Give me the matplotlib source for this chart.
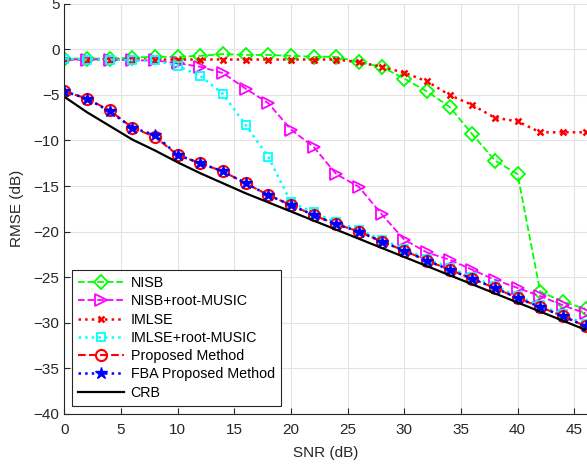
import numpy as np
import matplotlib.pyplot as plt

plt.rcParams['font.family'] = ['Liberation Sans', 'DejaVu Sans']
plt.rcParams['font.size'] = 11

## data ##################################################
snr = np.arange(0, 47, 2)

nisb = [-1.0, -1.0, -1.0, -0.9, -0.8, -0.8, -0.7, -0.5, -0.6, -0.6, -0.7, -0.8,
        -0.8, -1.4, -1.9, -3.2, -4.6, -6.3, -9.3, -12.2, -13.7, -26.6, -27.7, -28.5]
nisb_music = [-1.1, -1.1, -1.1, -1.2, -1.2, -1.5, -1.9, -2.6, -4.3, -5.9, -8.8, -10.7,
              -13.7, -15.1, -18.1, -20.9, -22.3, -23.1, -24.2, -25.3, -26.2, -27.1, -28.1, -29.0]
imlse = [-1.1, -1.1, -1.1, -1.1, -1.1, -1.1, -1.1, -1.1, -1.1, -1.1, -1.1, -1.1,
         -1.1, -1.4, -1.9, -2.55, -3.5, -5.0, -6.1, -7.5, -7.9, -9.1, -9.1, -9.1]
imlse_music = [-1.0, -1.1, -1.1, -1.2, -1.2, -1.8, -2.9, -4.9, -8.3, -11.8, -16.8, -17.9,
               -19.0, -19.8, -20.9, -21.9, -23.0, -24.0, -25.0, -26.0, -27.1, -28.1, -29.1, -30.2]
proposed = [-4.6, -5.4, -6.7, -8.6, -9.6, -11.6, -12.5, -13.4, -14.7, -16.0, -17.1, -18.2,
            -19.2, -20.0, -21.1, -22.1, -23.2, -24.2, -25.2, -26.2, -27.3, -28.3, -29.3, -30.4]
fba = [-4.6, -5.4, -6.8, -8.6, -9.4, -11.6, -12.5, -13.4, -14.7, -16.0, -17.1, -18.2,
       -19.2, -20.0, -21.1, -22.1, -23.2, -24.2, -25.2, -26.2, -27.3, -28.3, -29.3, -30.4]
crb = [-5.2, -6.9, -8.4, -9.9, -11.1, -12.4, -13.6, -14.7, -15.8, -16.8, -17.8, -18.8,
       -19.8, -20.8, -21.8, -22.8, -23.8, -24.8, -25.8, -26.8, -27.8, -28.8, -29.8, -30.8]

labels = ['NISB', 'NISB+root-MUSIC', 'IMLSE', 'IMLSE+root-MUSIC',
          'Proposed Method', 'FBA Proposed Method', 'CRB']

## plot ##################################################
fig = plt.figure(figsize=(5.87, 4.69), dpi=100)
ax = fig.add_axes([0.1097, 0.1183, 0.8903, 0.8732])

ax.plot(snr, nisb, '--', color=(0, 1, 0), marker='D', ms=7, mfc='none', mew=1.3, lw=1.3, label=labels[0])
ax.plot(snr, nisb_music, '--', color=(1, 0, 1), marker='>', ms=8, mfc='none', mew=1.3, lw=1.3, label=labels[1])
ax.plot(snr, imlse, ':', color=(1, 0, 0), marker='x', ms=5, mew=1.8, lw=1.8, label=labels[2])
ax.plot(snr, imlse_music, ':', color=(0, 1, 1), marker='s', ms=5.5, mfc='none', mew=1.3, lw=1.8, label=labels[3])
ax.plot(snr, proposed, '--', color=(1, 0, 0), marker='o', ms=8, mfc='none', mew=1.5, lw=1.5, label=labels[4])
ax.plot(snr, fba, ':', color=(0, 0, 1), marker='*', ms=9, lw=1.8, label=labels[5])
ax.plot(snr, crb, '-', color='k', lw=1.6, label=labels[6])

ax.set_xlim(0, 46.13)
ax.set_ylim(-40, 5)
ax.set_xticks(np.arange(0, 46, 5))
ax.set_yticks(np.arange(-40, 6, 5))
ax.grid(True, color='#e3e3e3', lw=0.8)
ax.set_axisbelow(True)
ax.tick_params(direction='in', length=4, colors='#262626', labelcolor='#262626')
ax.tick_params(axis='x', pad=7)
for s in ['top', 'right']:
    ax.spines[s].set_visible(False)
for s in ['left', 'bottom']:
    ax.spines[s].set_color('#262626')
    ax.spines[s].set_linewidth(0.8)

ax.set_xlabel('SNR (dB)', color='#262626', labelpad=6)
ax.set_ylabel('RMSE (dB)', color='#262626', labelpad=7)

leg = ax.legend(loc='lower left', bbox_to_anchor=(0.0145, 0.018), fancybox=False,
                edgecolor='#262626', framealpha=1, handlelength=3.2, borderpad=0.45,
                labelspacing=0.3, handletextpad=0.45, borderaxespad=0, fontsize=10.3)
leg.get_frame().set_linewidth(0.8)

plt.savefig('out.png', dpi=100)
